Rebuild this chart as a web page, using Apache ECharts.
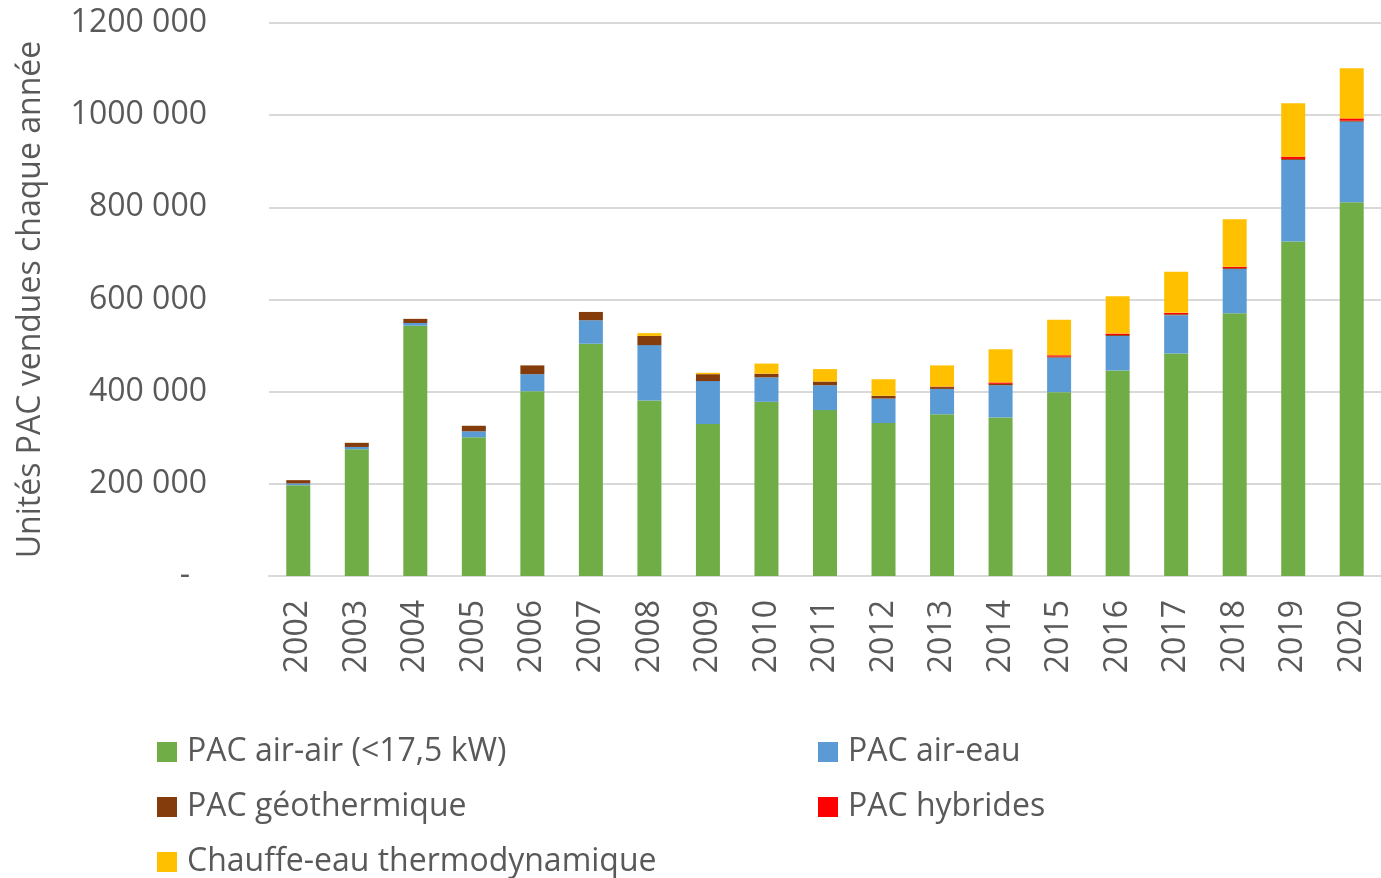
<!DOCTYPE html>
<html>
<head>
<meta charset="utf-8">
<script src="https://cdn.jsdelivr.net/npm/echarts@6/dist/echarts.min.js"></script>
<style>
  html, body { margin: 0; padding: 0; background: #fff; }
  #chart { width: 1381px; height: 878px; }
</style>
</head>
<body>
<div id="chart"></div>
<script>
// années
const years = ['2002', '2003', '2004', '2005', '2006', '2007', '2008', '2009', '2010', '2011',
  '2012', '2013', '2014', '2015', '2016', '2017', '2018', '2019', '2020'];

// unités vendues par type
const airAir = [197000, 275000, 543000, 301000, 401000, 504000, 381000, 330000, 378000, 360000,
  332000, 351000, 344000, 399000, 446000, 483000, 570000, 726000, 811000];
const airEau = [4000, 5000, 6000, 13000, 37000, 51000, 120000, 93000, 53000, 54000,
  53000, 55000, 70000, 75000, 75000, 83000, 96000, 177000, 175000];
const geothermique = [7000, 9000, 9000, 12000, 19000, 18000, 20000, 15000, 8000, 8000,
  6000, 4000, 3000, 2000, 2000, 2000, 2000, 2000, 2000];
const hybrides = [0, 0, 0, 0, 0, 0, 0, 0, 0, 0,
  0, 1000, 3000, 3000, 3000, 3000, 3000, 5000, 5000];
const chauffeEau = [0, 0, 0, 0, 0, 0, 6000, 3000, 22000, 27000,
  36000, 46000, 72000, 77000, 81000, 89000, 103000, 116000, 109000];

const yTicks = [0, 200000, 400000, 600000, 800000, 1000000, 1200000];

const txt = '#595959';
const font = '"Open Sans", Lato, sans-serif';

const chart = echarts.init(document.getElementById('chart'));

function bar(name, data, color) {
  return {
    name: name,
    type: 'bar',
    stack: 'total',
    barWidth: '41%',
    data: data,
    itemStyle: { color: color }
  };
}

// une légende par entrée, placée comme dans l'original (2 colonnes)
function leg(name, left, top) {
  return {
    left: left, top: top,
    itemWidth: 20, itemHeight: 20, icon: 'rect',
    textStyle: { color: txt, fontSize: 32, fontFamily: font, padding: [0, 0, 0, 5] },
    data: [name]
  };
}

chart.setOption({
  animation: false,
  textStyle: { fontFamily: font },
  grid: { left: 269, right: -10, top: 23, bottom: 302 },
  legend: [
    leg('PAC air-air (<17,5 kW)', 152, 731),
    leg('PAC air-eau', 813, 731),
    leg('PAC géothermique', 152, 786),
    leg('PAC hybrides', 813, 786),
    leg('Chauffe-eau thermodynamique', 152, 841)
  ],
  xAxis: {
    type: 'category',
    data: years,
    axisLine: { lineStyle: { color: '#D9D9D9', width: 2 } },
    axisTick: { show: false },
    axisLabel: { rotate: 90, color: txt, fontSize: 32, fontFamily: font, margin: 24 }
  },
  yAxis: {
    type: 'value',
    min: yTicks[0],
    max: yTicks[yTicks.length - 1],
    interval: 200000,
    name: 'Unités PAC vendues chaque année',
    nameLocation: 'middle',
    nameGap: 222,
    nameTextStyle: { color: txt, fontSize: 32, fontFamily: font },
    axisLine: { show: false },
    axisTick: { show: false },
    splitLine: { lineStyle: { color: '#D9D9D9', width: 2 } },
    axisLabel: {
      color: txt, fontSize: 32, fontFamily: font, margin: 62,
      formatter: function (v) {
        if (v === 0) return '{d|-}';
        return Math.round(v / 1000) + ' 000';
      },
      rich: { d: { fontSize: 32, color: txt, fontFamily: font, padding: [0, 17, 0, 0] } }
    }
  },
  series: [
    bar('PAC air-air (<17,5 kW)', airAir, '#70AD47'),
    bar('PAC air-eau', airEau, '#5B9BD5'),
    bar('PAC géothermique', geothermique, '#843C0C'),
    bar('PAC hybrides', hybrides, '#FF0000'),
    bar('Chauffe-eau thermodynamique', chauffeEau, '#FFC000')
  ]
});
</script>
</body>
</html>
